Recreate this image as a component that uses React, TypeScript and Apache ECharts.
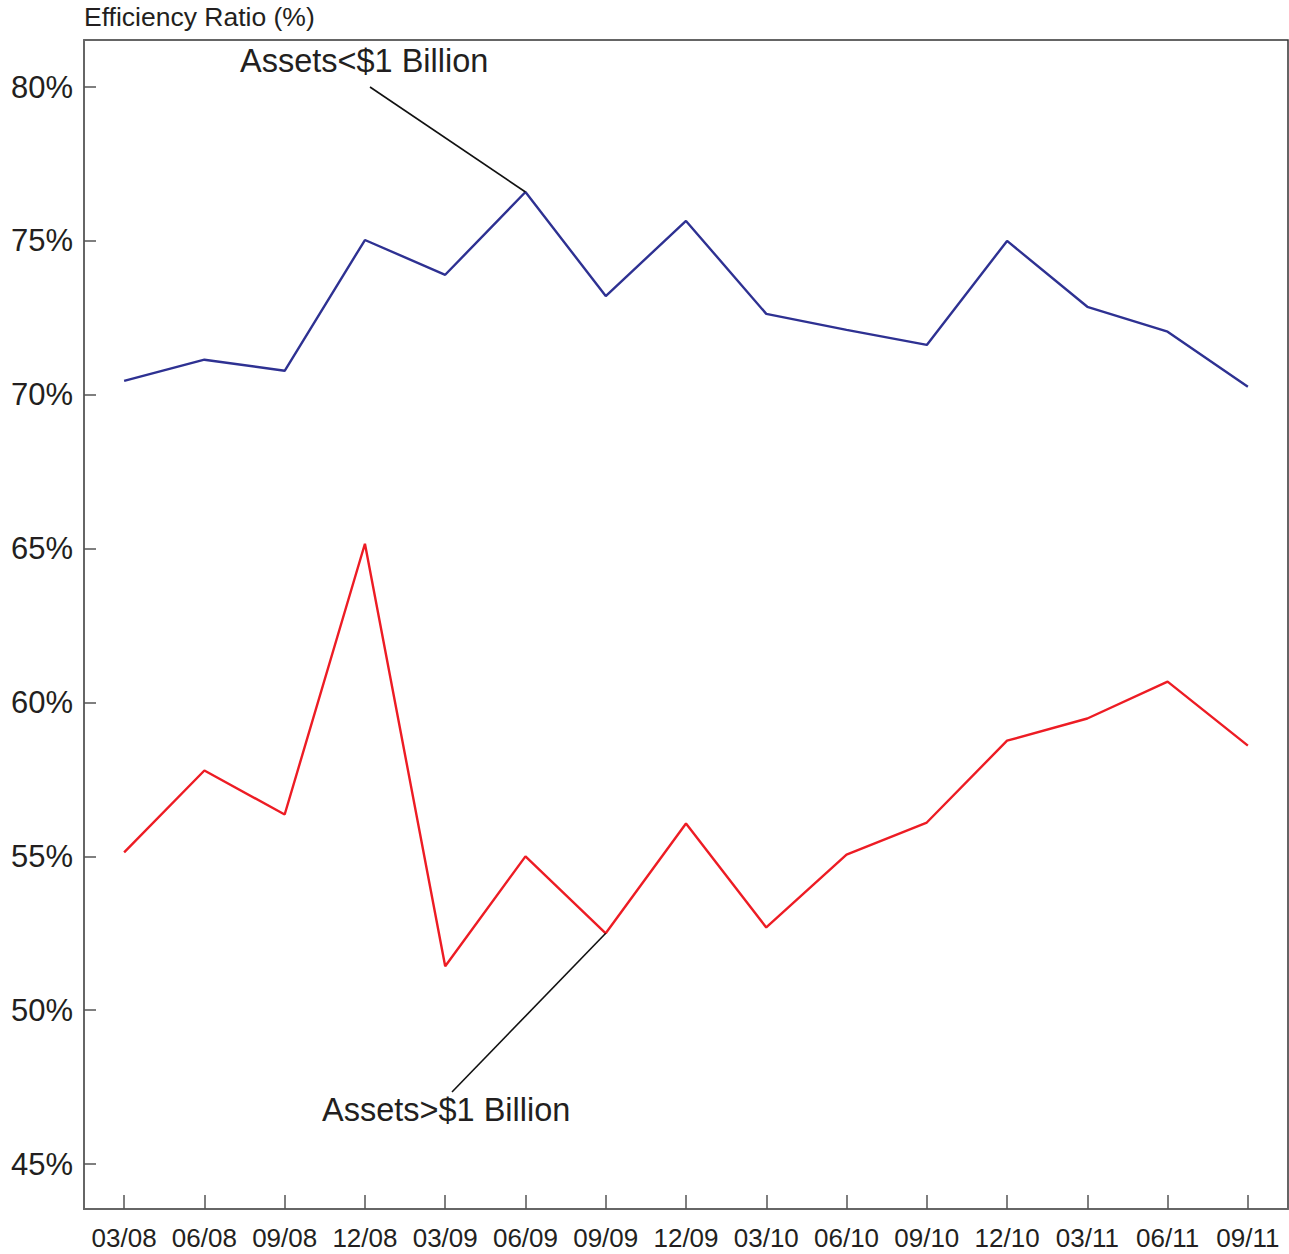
import React, { useEffect, useRef } from "react";
import * as echarts from "echarts";

const categories = ["03/08", "06/08", "09/08", "12/08", "03/09", "06/09", "09/09", "12/09", "03/10", "06/10", "09/10", "12/10", "03/11", "06/11", "09/11"];
const smallBanks = [70.45, 71.14, 70.78, 75.03, 73.9, 76.59, 73.21, 75.65, 72.63, 72.11, 71.62, 75.0, 72.86, 72.05, 70.26];
const largeBanks = [55.13, 57.79, 56.36, 65.16, 51.43, 55.0, 52.5, 56.07, 52.69, 55.06, 56.1, 58.76, 59.48, 60.68, 58.6];
const yTicks = [45, 50, 55, 60, 65, 70, 75, 80];
const yTitle = "Efficiency Ratio (%)";
const smallLabel = "Assets<$1 Billion";
const largeLabel = "Assets>$1 Billion";

const FONT = "'Liberation Sans', Arial, Helvetica, sans-serif";
const TEXT = "#231f20";

export default function App() {
  const ref = useRef<HTMLDivElement>(null);
  useEffect(() => {
    if (!ref.current) return;
    const chart = echarts.init(ref.current, undefined, { renderer: "svg" });
    chart.setOption({
      animation: false,
      backgroundColor: "#ffffff",
      textStyle: { fontFamily: FONT },
      grid: {
        left: 84,
        top: 40,
        right: 1,
        bottom: 45,
        show: true,
        borderColor: "#333333",
        borderWidth: 1.5,
      },
      xAxis: {
        type: "category",
        data: categories,
        boundaryGap: true,
        axisLine: { show: true, lineStyle: { color: "#666666", width: 2 } },
        axisTick: { show: true, inside: true, alignWithLabel: true, length: 14, lineStyle: { color: "#555555", width: 1.5 } },
        axisLabel: { color: TEXT, fontSize: 26, fontFamily: FONT, margin: 16, interval: 0 },
        splitLine: { show: false },
      },
      yAxis: {
        type: "value",
        min: 43.54,
        max: 81.53,
        axisLine: { show: true, lineStyle: { color: "#666666", width: 2 } },
        axisTick: { show: true, inside: true, length: 12, customValues: yTicks, lineStyle: { color: "#555555", width: 1.5 } },
        axisLabel: {
          color: TEXT,
          fontSize: 31,
          fontFamily: FONT,
          margin: 11,
          padding: [8, 0, 0, 0],
          customValues: yTicks,
          formatter: (v: number) => `${Math.round(v)}%`,
        },
        splitLine: { show: false },
      },
      graphic: [
        {
          type: "text",
          left: 84,
          top: 3,
          style: { text: yTitle, fill: TEXT, font: `26.5px ${FONT}` },
        },
        {
          type: "text",
          left: 240,
          top: 44,
          style: { text: smallLabel, fill: TEXT, font: `32.5px ${FONT}` },
        },
        {
          type: "text",
          left: 322,
          top: 1093,
          style: { text: largeLabel, fill: TEXT, font: `32.5px ${FONT}` },
        },
      ],
      series: [
        {
          name: smallLabel,
          type: "line",
          data: smallBanks,
          symbol: "none",
          lineStyle: { color: "#2e3192", width: 2.4 },
          markLine: {
            silent: true,
            symbol: "none",
            label: { show: false },
            lineStyle: { color: "#111111", width: 1.6, type: "solid" },
            data: [[{ coord: [5, smallBanks[5]] }, { x: 370, y: 87 }]],
          },
        },
        {
          name: largeLabel,
          type: "line",
          data: largeBanks,
          symbol: "none",
          lineStyle: { color: "#ed1c24", width: 2.4 },
          markLine: {
            silent: true,
            symbol: "none",
            label: { show: false },
            lineStyle: { color: "#111111", width: 1.6, type: "solid" },
            data: [[{ coord: [6, largeBanks[6]] }, { x: 452, y: 1092 }]],
          },
        },
      ],
    });
    return () => chart.dispose();
  }, []);
  return (
    <div
      ref={ref}
      style={{ position: "absolute", left: 0, top: 0, width: 1289, height: 1254, background: "#fff" }}
    />
  );
}
